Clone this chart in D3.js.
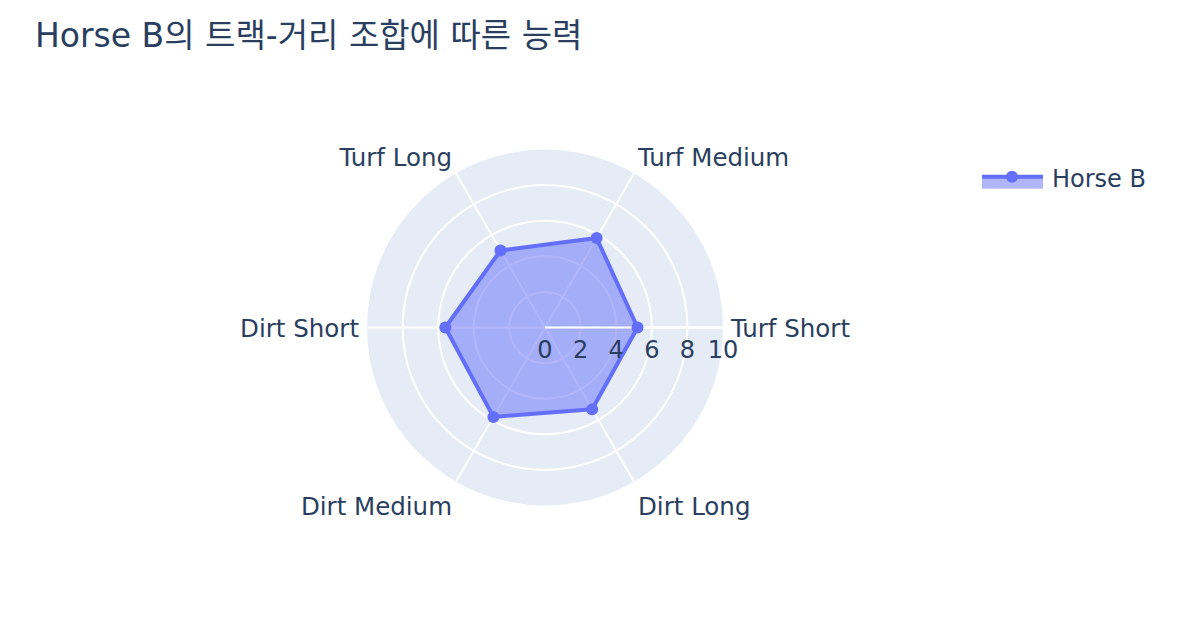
<!DOCTYPE html>
<html><head><meta charset="utf-8">
<script src="https://cdn.jsdelivr.net/npm/d3@7"></script>
<style>body{margin:0;background:#fff} svg{display:block}</style>
</head><body><svg id="c" width="1190" height="628"></svg>
<script>
const categories = ["Turf Short", "Turf Medium", "Turf Long", "Dirt Short", "Dirt Medium", "Dirt Long"];
const values = [5.2, 5.8, 5.0, 5.6, 5.8, 5.3];
const radialTicks = [0, 2, 4, 6, 8, 10];
const seriesName = "Horse B";
const titleText = "Horse B의 트랙-거리 조합에 따른 능력";

const cx = 545, cy = 327.5, R = 178;
const font = "'DejaVu Sans', 'Noto Sans CJK KR', sans-serif";
const textColor = "#2a3f5f";
const traceColor = "#636efa";

const svg = d3.select("#c");
svg.append("rect").attr("width", 1190).attr("height", 628).attr("fill", "#fff");

const r = d3.scaleLinear().domain([0, 10]).range([0, R]);
const ang = d3.scalePoint().domain(categories).range([0, 300]);
const rad = d => ang(d) * Math.PI / 180;
const px = (c, v) => cx + r(v) * Math.cos(rad(c));
const py = (c, v) => cy - r(v) * Math.sin(rad(c));

// background
svg.append("circle").attr("cx", cx).attr("cy", cy).attr("r", R).attr("fill", "#E5ECF6");

// radial grid circles
svg.append("g").selectAll("circle").data(radialTicks.filter(t => t > 0 && t < 10)).join("circle")
  .attr("cx", cx).attr("cy", cy).attr("r", d => r(d))
  .attr("fill", "none").attr("stroke", "#fff").attr("stroke-width", 2);

// angular grid lines
svg.append("g").selectAll("line").data(categories).join("line")
  .attr("x1", cx).attr("y1", cy)
  .attr("x2", d => px(d, 10)).attr("y2", d => py(d, 10))
  .attr("stroke", "#fff").attr("stroke-width", 2);

// trace fill + line
const pts = categories.map((c, i) => [px(c, values[i]), py(c, values[i])]);
const lineGen = d3.line().curve(d3.curveLinearClosed);
svg.append("path").attr("d", lineGen(pts))
  .attr("fill", traceColor).attr("fill-opacity", 0.5).attr("stroke", "none");

// radial axis line
svg.append("line").attr("x1", cx).attr("y1", cy).attr("x2", cx + R).attr("y2", cy)
  .attr("stroke", "#fff").attr("stroke-width", 2);

svg.append("path").attr("d", lineGen(pts))
  .attr("fill", "none").attr("stroke", traceColor).attr("stroke-width", 4)
  .attr("stroke-linejoin", "round");

svg.append("g").selectAll("circle").data(pts).join("circle")
  .attr("cx", d => d[0]).attr("cy", d => d[1]).attr("r", 6).attr("fill", traceColor);

// radial tick labels
svg.append("g").selectAll("text").data(radialTicks).join("text")
  .attr("x", d => cx + r(d)).attr("y", cy + 30)
  .attr("text-anchor", "middle")
  .attr("font-family", font).attr("font-size", 24).attr("fill", textColor)
  .text(d => d);

// angular labels
const pad = 8;
svg.append("g").selectAll("text").data(categories).join("text")
  .attr("x", d => cx + (R + pad) * Math.cos(rad(d)))
  .attr("y", d => {
    const s = Math.sin(rad(d));
    const y = cy - (R + pad) * s;
    if (s > 0.1) return y;
    if (s < -0.1) return y + 26;
    return y + 9;
  })
  .attr("text-anchor", d => {
    const c = Math.cos(rad(d));
    return c > 0.1 ? "start" : (c < -0.1 ? "end" : "middle");
  })
  .attr("font-family", font).attr("font-size", 24.5).attr("fill", textColor)
  .text(d => d);

// title
svg.append("text").attr("x", 35).attr("y", 47)
  .attr("font-family", font).attr("font-size", 33).attr("fill", textColor)
  .text(titleText);

// legend
const lg = svg.append("g").attr("transform", "translate(982,176.7)");
lg.append("rect").attr("x", 0).attr("y", 0).attr("width", 61).attr("height", 12)
  .attr("fill", traceColor).attr("fill-opacity", 0.5);
lg.append("line").attr("x1", 0).attr("x2", 61).attr("y1", 0).attr("y2", 0)
  .attr("stroke", traceColor).attr("stroke-width", 4);
lg.append("circle").attr("cx", 30).attr("cy", 0).attr("r", 6).attr("fill", traceColor);
lg.append("text").attr("x", 70).attr("y", 10)
  .attr("font-family", font).attr("font-size", 24).attr("fill", textColor)
  .text(seriesName);
</script></body></html>
